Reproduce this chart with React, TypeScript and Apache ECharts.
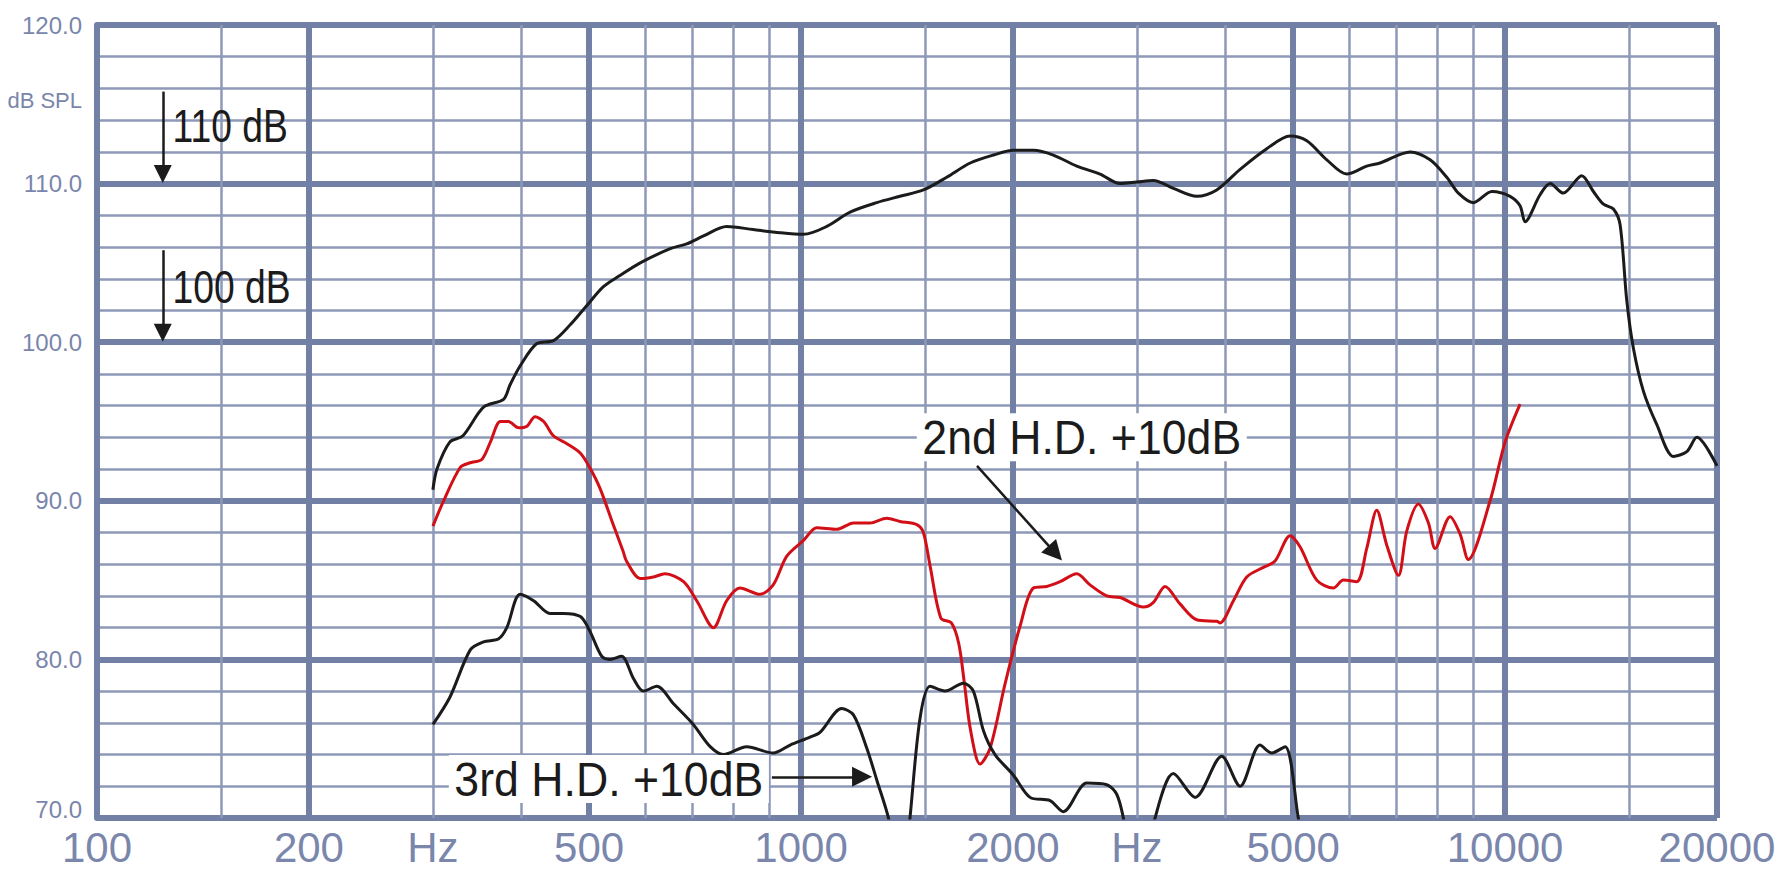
import React, { useEffect, useRef } from "react";
import * as echarts from "echarts";

// ---- grid frequencies ----
const thinFreqs = [150, 300, 400, 600, 700, 800, 900, 1500, 3000, 4000, 6000, 7000, 8000, 9000, 15000];
const majorFreqs = [100, 200, 500, 1000, 2000, 5000, 10000, 20000];
const labelFreqs = [100, 200, 300, 500, 1000, 2000, 3000, 5000, 10000, 20000];
const labelTexts = ["100", "200", "Hz", "500", "1000", "2000", "Hz", "5000", "10000", "20000"];

// ---- SPL response (dB SPL) ----
const splFreq = [300, 304, 317, 331, 354, 378, 386, 399, 421, 445, 470, 496, 524, 553, 591, 652, 688, 727, 784, 855, 934, 1008, 1088, 1174, 1281, 1382, 1492, 1610, 1739, 1876, 2003, 2138, 2282, 2464, 2659, 2839, 2999, 3166, 3380, 3648, 3894, 4204, 4587, 4950, 5228, 5582, 5958, 6361, 6645, 7331, 7825, 8264, 8584, 9016, 9577, 10164, 10503, 10676, 11213, 11587, 12098, 12850, 13350, 13796, 14253, 14568, 14891, 15218, 15725, 16427, 17345, 18121, 18724, 20000];
const splDb = [90.7, 92.0, 93.7, 94.1, 95.9, 96.4, 97.3, 98.5, 99.9, 100.1, 101.1, 102.3, 103.5, 104.2, 105.0, 105.9, 106.2, 106.7, 107.3, 107.1, 106.9, 106.8, 107.3, 108.2, 108.8, 109.2, 109.6, 110.4, 111.3, 111.8, 112.1, 112.1, 111.8, 111.1, 110.6, 110.0, 110.1, 110.2, 109.7, 109.2, 109.6, 110.9, 112.2, 113.0, 112.7, 111.5, 110.6, 111.1, 111.3, 112.0, 111.5, 110.4, 109.4, 108.8, 109.5, 109.2, 108.6, 107.6, 109.3, 110.0, 109.4, 110.5, 109.5, 108.7, 108.4, 107.4, 102.6, 99.6, 96.9, 94.8, 92.8, 93.1, 94.0, 92.2];

// ---- 2nd harmonic distortion +10 dB ----
const hd2Freq = [300, 310, 328, 339, 352, 362, 374, 384, 397, 408, 419, 431, 445, 465, 486, 501, 518, 541, 559, 565, 591, 617, 641, 681, 711, 751, 784, 819, 874, 913, 954, 1008, 1053, 1124, 1187, 1253, 1323, 1382, 1460, 1492, 1525, 1580, 1635, 1675, 1705, 1740, 1796, 1856, 1950, 2047, 2138, 2234, 2333, 2464, 2573, 2718, 2839, 3064, 3166, 3289, 3454, 3648, 3894, 3937, 4113, 4296, 4536, 4713, 4950, 5114, 5401, 5704, 5893, 6156, 6361, 6573, 6792, 7056, 7251, 7532, 7783, 7955, 8355, 8633, 8866, 9522, 10000, 10503];
const hd2Db = [88.4, 89.9, 92.1, 92.4, 92.6, 93.7, 95.0, 95.0, 94.6, 94.7, 95.3, 95.0, 94.1, 93.6, 93.0, 92.1, 90.8, 88.5, 86.8, 86.2, 85.1, 85.2, 85.4, 84.9, 83.7, 82.0, 83.7, 84.5, 84.1, 84.7, 86.5, 87.5, 88.3, 88.2, 88.6, 88.6, 88.9, 88.7, 88.5, 88.0, 85.9, 82.6, 82.3, 81.0, 78.6, 75.6, 73.4, 74.4, 78.5, 82.1, 84.5, 84.6, 84.9, 85.4, 84.7, 84.0, 83.9, 83.3, 83.6, 84.6, 83.5, 82.5, 82.4, 82.3, 83.7, 85.2, 85.8, 86.2, 87.8, 87.1, 85.0, 84.5, 85.0, 84.9, 87.0, 89.4, 87.2, 85.3, 88.1, 89.8, 88.6, 87.0, 89.0, 87.9, 86.3, 90.0, 93.7, 96.1];

// ---- 3rd harmonic distortion +10 dB ----
const hd3Freq = [300, 317, 339, 354, 372, 382, 399, 417, 440, 460, 486, 501, 521, 535, 556, 578, 597, 624, 659, 703, 743, 776, 837, 913, 965, 1030, 1064, 1142, 1187, 1240, 1281, 1331, 1370, 1405, 1428, 1476, 1525, 1601, 1701, 1757, 1816, 1886, 2003, 2115, 2258, 2358, 2546, 2718, 2808, 2870, 2950, 3100, 3183, 3380, 3629, 3959, 4204, 4487, 4662, 4870, 5085, 5150];
const hd3Db = [75.9, 77.6, 80.6, 81.1, 81.3, 82.0, 84.1, 83.7, 82.9, 82.9, 82.7, 81.8, 80.2, 80.0, 80.2, 78.8, 78.0, 78.3, 77.2, 75.9, 74.5, 74.0, 74.5, 74.1, 74.6, 75.1, 75.4, 76.9, 76.5, 74.4, 72.4, 70.0, 67.0, 67.0, 70.0, 76.3, 78.3, 78.0, 78.5, 78.0, 75.5, 74.0, 72.7, 71.3, 71.1, 70.4, 72.2, 72.1, 71.5, 70.0, 67.0, 67.0, 70.0, 72.8, 71.3, 73.9, 72.0, 74.6, 74.1, 74.5, 70.0, 68.5];

const yTicks = [70, 80, 90, 100, 110, 120];

const zip = (xs: number[], ys: number[]) => xs.map((x, i) => [x, ys[i]]);

export default function App() {
  const ref = useRef<HTMLDivElement>(null);

  useEffect(() => {
    const chart = echarts.init(ref.current!, null, { renderer: "svg" });
    const thinColor = "#8e99b9";
    const thickColor = "#7280a6";
    const labelColor = "#7a86ab";
    const narrow = "'Liberation Sans Narrow', 'Liberation Sans', Arial, sans-serif";
    const sans = "'Liberation Sans', Arial, Helvetica, sans-serif";
    const yMin = yTicks[0];
    const yMax = yTicks[yTicks.length - 1];

    const vLines: any[] = [];
    const allFreqs = [...thinFreqs.map((f) => ({ f, major: false })), ...majorFreqs.map((f) => ({ f, major: true }))];
    allFreqs.forEach(({ f, major }) => {
      const li = labelFreqs.indexOf(f);
      vLines.push([
        {
          coord: [f, yMin],
          name: li >= 0 ? labelTexts[li] : "",
          lineStyle: { color: major ? thickColor : thinColor, width: major ? 6 : 2.5, type: "solid" },
          label: {
            show: li >= 0,
            position: "start",
            formatter: "{b}",
            distance: 8,
            fontSize: 42,
            fontFamily: sans,
            color: labelColor,
          },
        },
        { coord: [f, yMax] },
      ]);
    });

    const curveColor = "#1b1b1b";
    const redColor = "#d20f17";

    const option: any = {
      animation: false,
      backgroundColor: "#ffffff",
      grid: { left: 97, right: 64, top: 25, bottom: 54, containLabel: false },
      xAxis: {
        type: "log",
        logBase: 10,
        min: 100,
        max: 20000,
        axisLine: { show: false },
        axisTick: { show: false },
        axisLabel: { show: false },
        splitLine: { show: false },
        minorTick: { show: false },
        minorSplitLine: { show: false },
      },
      yAxis: [
        {
          type: "value",
          min: yMin,
          max: yMax,
          interval: 2,
          axisLine: { show: false },
          axisTick: { show: false },
          axisLabel: { show: false },
          splitLine: { show: true, lineStyle: { color: thinColor, width: 2.5 } },
        },
        {
          type: "value",
          min: yMin,
          max: yMax,
          interval: 10,
          position: "left",
          axisLine: { show: true, lineStyle: { color: thickColor, width: 6 } },
          axisTick: { show: false },
          axisLabel: {
            show: true,
            margin: 15,
            fontSize: 24,
            fontFamily: narrow,
            color: labelColor,
            formatter: (v: number) => (v === yMin ? "{low|" + v.toFixed(1) + "}" : v.toFixed(1)),
            rich: {
              low: { fontSize: 24, fontFamily: narrow, color: labelColor, padding: [0, 0, 18, 0] },
            },
          },
          splitLine: { show: true, lineStyle: { color: thickColor, width: 6 } },
        },
      ],
      series: [
        {
          name: "grid",
          type: "line",
          data: [],
          z: 1,
          silent: true,
          markLine: { silent: true, symbol: ["none", "none"], animation: false, data: vLines },
        },
        {
          name: "SPL",
          type: "line",
          data: zip(splFreq, splDb),
          smooth: 0.3,
          showSymbol: false,
          symbol: "none",
          z: 5,
          lineStyle: { color: curveColor, width: 3 },
        },
        {
          name: "2nd H.D. +10dB",
          type: "line",
          data: zip(hd2Freq, hd2Db),
          smooth: 0.3,
          showSymbol: false,
          symbol: "none",
          z: 5,
          lineStyle: { color: redColor, width: 3 },
        },
        {
          name: "3rd H.D. +10dB",
          type: "line",
          data: zip(hd3Freq, hd3Db),
          smooth: 0.3,
          showSymbol: false,
          symbol: "none",
          clip: true,
          z: 5,
          lineStyle: { color: curveColor, width: 3 },
        },
        {
          name: "arrows",
          type: "line",
          data: [],
          z: 8,
          silent: true,
          markLine: {
            silent: true,
            animation: false,
            symbol: ["none", "triangle"],
            symbolSize: 20,
            label: { show: false },
            lineStyle: { color: "#1b1b1b", width: 2.5, type: "solid" },
            data: [
              [{ coord: [124, 115.8], symbolSize: 18 }, { coord: [124, 110.6], symbolSize: 18 }],
              [{ coord: [124, 105.8], symbolSize: 18 }, { coord: [124, 100.6], symbolSize: 18 }],
              [{ coord: [1778, 92.2] }, { coord: [2297, 86.7] }],
              [{ coord: [909, 72.6] }, { coord: [1221, 72.6] }],
            ],
          },
        },
      ],
    };

    chart.setOption(option);

    const px = (f: number, db: number) =>
      chart.convertToPixel({ xAxisIndex: 0, yAxisIndex: 0 }, [f, db]) as number[];

    const mkText = (f: number, db: number, text: string, size: number, sx: number, bg?: boolean) => {
      const p = px(f, db);
      return {
        type: "text",
        x: p[0],
        y: p[1],
        scaleX: sx,
        z: 20,
        silent: true,
        style: {
          text,
          fill: "#1b1b1b",
          font: `${size}px ${sans}`,
          textAlign: "left",
          textVerticalAlign: "middle",
          align: "left",
          verticalAlign: "middle",
          backgroundColor: bg ? "#ffffff" : undefined,
          padding: bg ? [0, 6, 0, 6] : undefined,
        },
      };
    };

    const unitPos = px(100, 115.27);
    chart.setOption({
      graphic: [
        {
          type: "text",
          x: unitPos[0] - 15,
          y: unitPos[1],
          z: 20,
          silent: true,
          style: {
            text: "dB SPL",
            fill: labelColor,
            font: `22px ${narrow}`,
            textAlign: "right",
            textVerticalAlign: "middle",
            align: "right",
            verticalAlign: "middle",
          },
        },
        mkText(128, 113.6, "110 dB", 46, 0.81),
        mkText(128, 103.5, "100 dB", 46, 0.81),
        mkText(1460, 94.0, "2nd H.D. +10dB", 48, 0.93, true),
        mkText(316, 72.46, "3rd H.D. +10dB", 48, 0.93, true),
      ],
    });

    return () => chart.dispose();
  }, []);

  return (
    <div
      ref={ref}
      style={{ position: "fixed", left: 0, top: 0, width: 1781, height: 872, background: "#ffffff" }}
    />
  );
}
